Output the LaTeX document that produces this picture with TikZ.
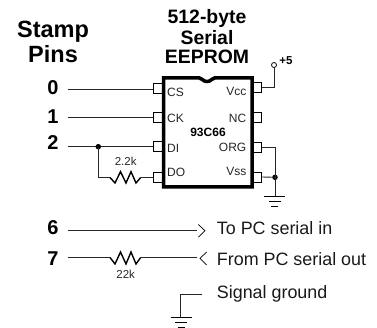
\documentclass[tikz,border=0pt]{standalone}
\usepackage{fontspec}
\setmainfont{Liberation Sans}
\begin{document}
\begin{tikzpicture}[x=1pt,y=-1pt,
  wire/.style={draw=black!85,line width=0.9pt},
  zig/.style={draw=black,line width=1.4pt,line join=miter},
  pinbox/.style={draw=black,line width=0.9pt,fill=white,minimum width=9pt,minimum height=10pt,inner sep=0pt,outer sep=0pt},
  pinlab/.style={font=\fontsize{12}{12}\selectfont,inner sep=0pt,text=black!85},
  pinnum/.style={font=\bfseries\fontsize{20}{20}\selectfont,inner sep=0pt,anchor=base},
  head/.style={align=center,inner sep=0pt,anchor=base},
  rlab/.style={font=\fontsize{11.5}{12}\selectfont,inner sep=0pt,text=black!85,anchor=base},
  sig/.style={font=\fontsize{17.9}{18}\selectfont,inner sep=0pt,anchor=base west,text=black!90},
  dot/.style={circle,fill=black,inner sep=0pt,minimum size=5.5pt},
  gnd/.style={draw=black,line width=1.2pt}]
\useasboundingbox (0,0) rectangle (377,328);
% titles
\node[head,font=\bfseries\fontsize{23.5}{25}\selectfont] (stampa) at (53,38) {Stamp};
\node[head,font=\bfseries\fontsize{23.5}{25}\selectfont] (stampb) at (53,63) {Pins};
\node[head,font=\bfseries\fontsize{19.4}{20}\selectfont] (ta) at (207,23.5) {512-byte};
\node[head,font=\bfseries\fontsize{19.4}{20}\selectfont] (tb) at (207,44.5) {Serial};
\node[head,font=\bfseries\fontsize{19.4}{20}\selectfont] (tc) at (207,63.5) {EEPROM};
% pins
\node[pinbox] (cs) at (157.5,88) {};
\node[pinbox] (ck) at (157.5,117.7) {};
\node[pinbox] (di) at (157.5,146.7) {};
\node[pinbox] (do) at (157.5,177.2) {};
\node[pinbox] (vcc) at (257.3,87.5) {};
\node[pinbox] (nc) at (257.3,117.5) {};
\node[pinbox] (org) at (257.3,147) {};
\node[pinbox] (vss) at (257.3,177) {};
% chip
\draw[line width=3.5pt,fill=white] (163.5,77.8) -- (199,77.8) .. controls (203,77.8) and (202,81.5) .. (207,81.5) .. controls (212,81.5) and (211,77.8) .. (215,77.8) -- (252,77.8) -- (252,187) -- (163.5,187) -- cycle;
\node[font=\bfseries\fontsize{12}{12}\selectfont,inner sep=0pt,anchor=base] (part) at (208,136.7) {93C66};
\node[pinlab,anchor=base west] (lcs) at (167,96.7) {CS};
\node[pinlab,anchor=base west] (lck) at (167,122.7) {CK};
\node[pinlab,anchor=base west] (ldi) at (167,152.7) {DI};
\node[pinlab,anchor=base west] (ldo) at (167,176.7) {DO};
\node[pinlab,anchor=base east] (lvcc) at (246.5,96) {Vcc};
\node[pinlab,anchor=base east] (lnc) at (246.5,122.3) {NC};
\node[pinlab,anchor=base east] (lorg) at (246.5,152) {ORG};
\node[pinlab,anchor=base east] (lvss) at (246.5,176) {Vss};
% stamp pin numbers
\node[pinnum] (p0) at (53,95) {0};
\node[pinnum] (p1) at (53,123.3) {1};
\node[pinnum] (p2) at (53,150) {2};
\node[pinnum] (p6) at (53,235) {6};
\node[pinnum] (p7) at (53,266) {7};
\coordinate (s0) at (67.5,89);
\coordinate (s1) at (67.5,117.7);
\coordinate (s2) at (67.5,146.7);
\draw[wire] (s0) -- (cs.west |- s0);
\draw[wire] (s1) -- (ck.west);
\draw[wire] (s2) -- (di.west);
% feedback resistor
\node[dot] (j1) at (98.3,146.7) {};
\draw[wire] (j1.center) -- (98.3,177.5) -- (110,177.5);
\draw[zig] (110,177.5) -- (115,183) -- (120.5,171.7) -- (126,183) -- (131,171.7) -- (136,183) -- (140.7,177.5);
\draw[wire] (140.7,177.5) -- (do.west |- 0,177.5);
\node[rlab] (r1) at (125.7,165.7) {2.2k};
% +5
\node[circle,draw=black,line width=0.8pt,inner sep=0pt,minimum size=5pt,fill=white] (v5) at (274,65) {};
\draw[wire] (vcc.east) -- (v5 |- vcc.east) -- (v5.south);
\node[font=\bfseries\fontsize{11.5}{12}\selectfont,inner sep=0pt,anchor=base] (plus) at (286,65) {+5};
% right ground
\node[dot] (j2) at (275,177.3) {};
\coordinate (g1) at (275,196.3);
\draw[wire] (org.east) -- (org.east -| g1) -- (g1);
\draw[wire] (vss.east) -- (j2.center);
\draw[gnd] (263.7,196.3) -- (285.3,196.3) (268.5,201.3) -- (281,201.3) (271.2,206.3) -- (278.3,206.3);
% 6 and 7
\coordinate (s6) at (67.5,230.7);
\coordinate (e6) at (196.7,230.7);
\coordinate (s7) at (67.5,257.5);
\coordinate (e7) at (196.7,257.5);
\draw[wire] (s6) -- (e6);
\draw[line width=0.7pt] (198.3,224.5) -- (205,230.7) -- (198.3,237.2);
\draw[wire] (s7) -- (110,257.5);
\draw[zig] (110,257.5) -- (115,264) -- (120.5,252) -- (126,264) -- (131,252) -- (136,264) -- (140.7,257.5);
\draw[wire] (140.7,257.5) -- (e7);
\draw[line width=0.7pt] (206.7,252) -- (200,258.3) -- (206.7,265);
\node[rlab] (r2) at (125.7,279) {22k};
\node[sig] (t6) at (216.7,235) {To PC serial in};
\node[sig] (t7) at (216.7,265.7) {From PC serial out};
\node[sig] (t8) at (216.7,298.7) {Signal ground};
% signal ground
\coordinate (g2) at (201.7,294.3);
\coordinate (g3) at (180.7,317);
\draw[wire] (g2) -- (g2 -| g3) -- (g3);
\draw[gnd] (170.5,317.5) -- (192,317.5) (175,322.5) -- (187,322.5) (177.5,327.3) -- (184.5,327.3);
\end{tikzpicture}
\end{document}
